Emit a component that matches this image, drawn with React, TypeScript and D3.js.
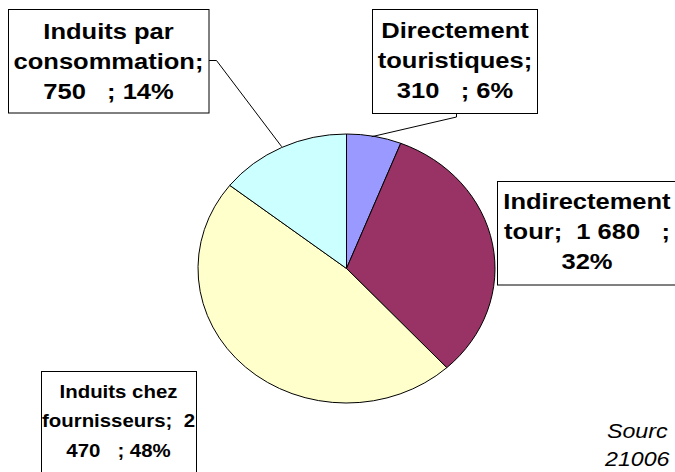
import React from "react";
import * as d3 from "d3";

const categories = [
  "Directement touristiques",
  "Indirectement tour",
  "Induits chez fournisseurs",
  "Induits par consommation",
];
const values = [310, 1680, 2470, 750];
const colors = ["#9999FF", "#993366", "#FFFFCC", "#CCFFFF"];
const labelLines = [
  ["Directement", "touristiques;", "310   ; 6%"],
  ["Indirectement", "tour;  1 680   ;", "32%"],
  ["Induits chez", "fournisseurs;  2", "470   ; 48%"],
  ["Induits par", "consommation;", "750   ; 14%"],
];
const sourceLines = ["Sourc", "21006"];

const W = 675;
const H = 472;
const cx = 346.5;
const cy = 268.5;
const ry = 134.5;
const sxPie = 1.104;
const sxText = 1.16;

// label box geometry (layout, not data)
const boxes = [
  { x: 372.5, y: 9.5, w: 165, h: 104, tx: 455, base: 38, fs: 22, lh: 30 },
  { x: 497.5, y: 181.5, w: 180, h: 103.5, tx: 587, base: 208.5, fs: 22, lh: 30 },
  { x: 41.5, y: 371.5, w: 155, h: 110, tx: 118.5, base: 397.5, fs: 17.6, lh: 29.5 },
  { x: 8.5, y: 9.5, w: 200.5, h: 103.5, tx: 108.5, base: 38.5, fs: 22, lh: 30 },
];
const leaders: [number, number][][] = [
  [[456.5, 113.5], [456.5, 117], [371.7, 136.7]],
  [],
  [],
  [[209, 60.5], [216.5, 60.5], [281.7, 146.7]],
];

export default function App() {
  const pie = d3.pie<number>().sort(null).value((d) => d)(values);
  const arc = d3.arc<d3.PieArcDatum<number>>().innerRadius(0).outerRadius(ry);
  const line = d3.line();
  return (
    <svg
      width={W}
      height={H}
      style={{ position: "absolute", left: 0, top: 0, background: "#fff" }}
      fontFamily="'Liberation Sans', Arial, sans-serif"
    >
      <rect x={0} y={0} width={W} height={H} fill="#fff" />
      <g transform={`translate(${cx},${cy}) scale(${sxPie},1)`}>
        {pie.map((p, i) => (
          <path
            key={categories[i]}
            d={arc(p) || ""}
            fill={colors[i]}
            stroke="#000"
            strokeWidth={1}
            vectorEffect="non-scaling-stroke"
          />
        ))}
      </g>
      {leaders.map((pts, i) =>
        pts.length ? (
          <path key={"l" + i} d={line(pts) || ""} fill="none" stroke="#000" strokeWidth={1} />
        ) : null
      )}
      {boxes.map((b, i) => (
        <g key={"b" + i}>
          <rect x={b.x} y={b.y} width={b.w} height={b.h} fill="#fff" stroke="#000" strokeWidth={1} />
          {labelLines[i].map((t, j) => (
            <text
              key={j}
              transform={`translate(${b.tx},${b.base + j * b.lh}) scale(${sxText},1)`}
              textAnchor="middle"
              fontSize={b.fs}
              fontWeight="bold"
              fill="#000"
              style={{ whiteSpace: "pre" }}
            >
              {t}
            </text>
          ))}
        </g>
      ))}
      {sourceLines.map((t, j) => (
        <text
          key={"s" + j}
          transform={`translate(${j === 0 ? 607 : 605},${438 + j * 28}) scale(1.16,1)`}
          fontSize={20}
          fontStyle="italic"
          fill="#000"
        >
          {t}
        </text>
      ))}
    </svg>
  );
}
